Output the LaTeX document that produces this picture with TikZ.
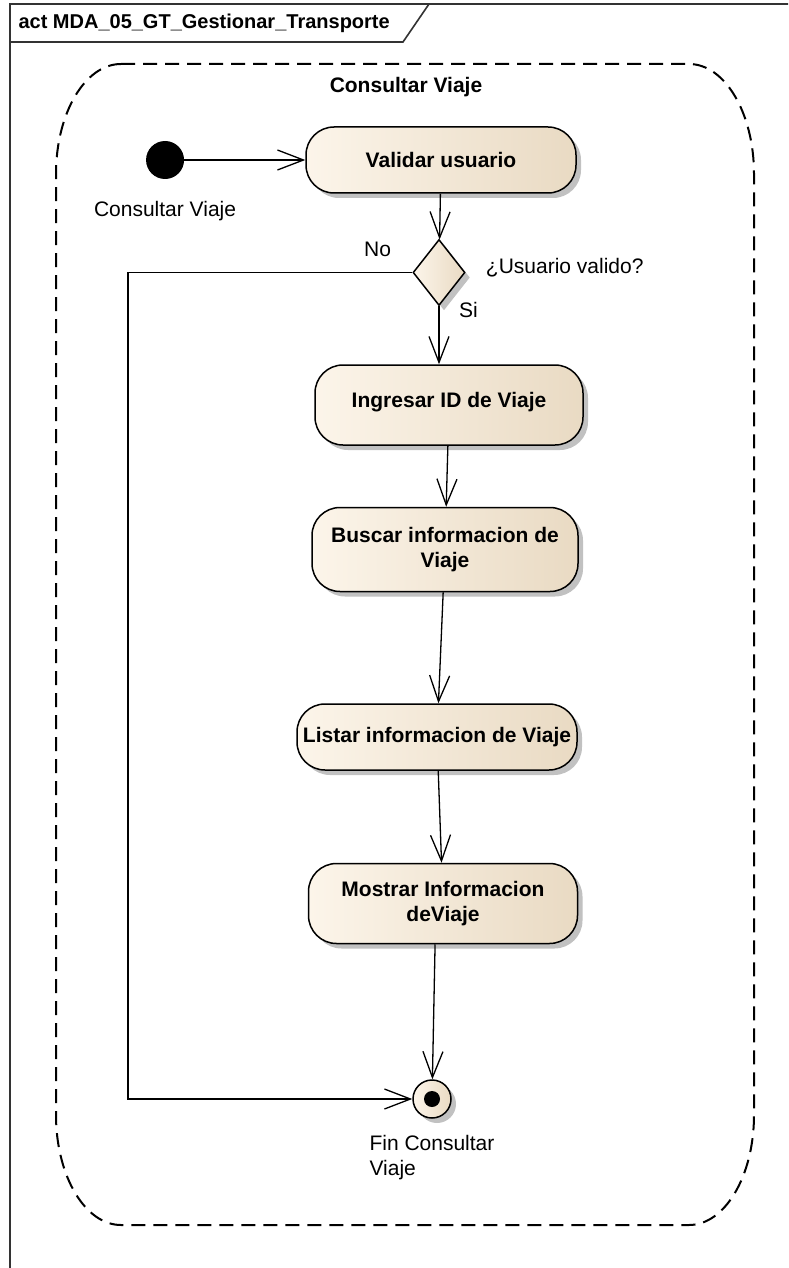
\documentclass[tikz,border=0pt]{standalone}
\usepackage{fontspec}
\setmainfont{Liberation Sans}
\usetikzlibrary{shapes.geometric, arrows.meta, positioning, shadows}

\definecolor{actL}{RGB}{252,245,234}
\definecolor{actR}{RGB}{233,218,195}

\begin{document}
\begin{tikzpicture}[
    x=1pt, y=-1pt,
    font=\fontsize{21}{25}\selectfont,
    shade/.style={drop shadow={shadow xshift=5pt, shadow yshift=-5pt, fill=black!35, opacity=.7}},
    action/.style={rectangle, rounded corners=28pt, draw, line width=1.5pt, left color=actL, right color=actR, align=center, font=\fontsize{21}{25}\selectfont\bfseries, shade},
    decision/.style={diamond, draw, line width=1.5pt, left color=actL, right color=actR, minimum width=52pt, minimum height=66pt, aspect=0.79, inner sep=0pt, shade},
    startnode/.style={circle, fill=black, minimum size=38pt, inner sep=0pt},
    endnode/.style={circle, draw, line width=1.5pt, left color=actL, right color=actR, minimum size=38pt, inner sep=0pt, shade, path picture={\fill[black] (path picture bounding box.center) circle (8pt);}},
    lbl/.style={inner sep=2pt},
    flow/.style={-{Straight Barb[length=26pt, width=20pt, line width=1.3pt]}, line width=1.3pt},
    frame/.style={line width=1.6pt, black!80},
    region/.style={line width=2pt, dash pattern=on 14pt off 8pt}
]
\clip (0,0) rectangle (788,1268);

% frame and tab
\draw[frame] (10,4) rectangle (800,1290);
\draw[frame] (10,42) -- (403,42) -- (429,4);
\node[anchor=west, font=\fontsize{20}{25}\selectfont\bfseries] (frametitle) at (15,23) {act MDA\_05\_GT\_Gestionar\_Transporte};

% activity region
\draw[region] (121,64) -- (689,64)
    arc[start angle=90, end angle=0, x radius=65pt, y radius=110pt] -- (754,1115)
    arc[start angle=0, end angle=-90, x radius=65pt, y radius=110pt] -- (121,1225)
    arc[start angle=270, end angle=180, x radius=65pt, y radius=110pt] -- (56,174)
    arc[start angle=180, end angle=90, x radius=65pt, y radius=110pt] -- cycle;
\node[font=\fontsize{21}{25}\selectfont\bfseries] (regiontitle) at (406,87) {Consultar Viaje};

\node[action, minimum width=270pt, minimum height=66pt] (validar) at (441,160) {Validar usuario};
\node[startnode, left=121pt of validar] (start) {};
\node[lbl, below=20pt of start] (startlbl) {Consultar Viaje};
\node[decision, below=45pt of validar, xshift=-2pt] (usuario) {};
\node[action, minimum width=268pt, minimum height=80pt, below=58pt of usuario, xshift=10pt] (ingresar) {\raisebox{10pt}{Ingresar ID de Viaje}};
\node[action, minimum width=266pt, minimum height=84pt, below=61pt of ingresar, xshift=-4pt] (buscar) {Buscar informacion de\\Viaje};
\node[action, minimum width=280pt, minimum height=66pt, below=111pt of buscar, xshift=-8pt] (listar) {Listar informacion de Viaje};
\node[action, minimum width=269pt, minimum height=80pt, below=92pt of listar, xshift=6pt] (mostrar) {Mostrar Informacion\\deViaje};
\node[endnode, below=135pt of mostrar, xshift=-11pt] (fin) {};
\node[lbl, below=14pt of fin, align=left] (finlbl) {Fin Consultar\\Viaje};

\node[lbl, right=18pt of usuario, yshift=5pt] (pregunta) {¿Usuario valido?};
\node[lbl, above left=14pt and 19pt of usuario.west] (no) {No};
\node[lbl, right=18pt of usuario.south, yshift=-4pt] (si) {Si};

\coordinate (loopx) at (128,0);

\draw[flow] (start) -- (validar);
\draw[flow] (validar) -- (usuario);
\draw[flow] (usuario.south) -- (usuario.south |- ingresar.north);
\draw[flow] (ingresar) -- (buscar);
\draw[flow] (buscar) -- (listar);
\draw[flow] (listar) -- (mostrar);
\draw[flow] (mostrar.-101) -- (fin);
\draw[flow] (usuario.west) -- (usuario.west -| loopx) |- (fin.west);
\end{tikzpicture}
\end{document}
